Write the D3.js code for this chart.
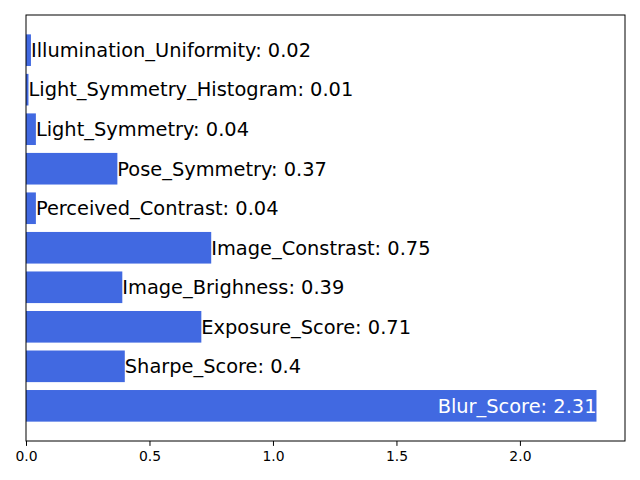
<!DOCTYPE html>
<html>
<head>
<meta charset="utf-8">
<script src="https://cdn.jsdelivr.net/npm/d3@7"></script>
<style>
  body { margin: 0; background: #fff; }
  text { font-family: "DejaVu Sans", sans-serif; }
</style>
</head>
<body>
<div id="chart"></div>
<script>
// data, bottom bar first
var names = ["Blur_Score", "Sharpe_Score", "Exposure_Score", "Image_Brighness", "Image_Constrast",
             "Perceived_Contrast", "Pose_Symmetry", "Light_Symmetry", "Light_Symmetry_Histogram", "Illumination_Uniformity"];
var values = [2.31, 0.4, 0.71, 0.39, 0.75, 0.04, 0.37, 0.04, 0.01, 0.02];
var xTicks = [0, 0.5, 1.0, 1.5, 2.0];

var margin = {top: 15, right: 15, bottom: 39, left: 26},
    width = 640 - margin.left - margin.right,
    height = 480 - margin.top - margin.bottom;

var svg = d3.select("#chart").append("svg")
    .attr("width", 640)
    .attr("height", 480)
  .append("g")
    .attr("transform", "translate(" + margin.left + "," + margin.top + ")");

var maxV = d3.max(values);
var x = d3.scaleLinear().domain([0, maxV * 1.05]).range([0, width]);
// matplotlib style y limits: bars of height 0.8 plus 5% margins
var y = d3.scaleLinear().domain([-0.89, names.length - 1 + 0.89]).range([height, 0]);

svg.selectAll(".bar")
    .data(values)
  .enter().append("rect")
    .attr("class", "bar")
    .attr("x", x(0))
    .attr("y", function(d, i) { return y(i + 0.4); })
    .attr("width", function(d) { return x(d) - x(0); })
    .attr("height", function(d, i) { return y(i - 0.4) - y(i + 0.4); })
    .attr("fill", "#4169E1");

// labels
svg.selectAll(".lbl")
    .data(values)
  .enter().append("text")
    .attr("class", "lbl")
    .attr("x", function(d) { return x(d); })
    .attr("y", function(d, i) { return y(i); })
    .attr("dy", "0.35em")
    .style("font-size", "19.4px")
    .attr("text-anchor", function(d) { return d === maxV ? "end" : "start"; })
    .attr("fill", function(d) { return d === maxV ? "#fff" : "#000"; })
    .text(function(d, i) { return names[i] + ": " + d; });

// x axis
var xAxis = svg.append("g")
    .attr("transform", "translate(0," + height + ")")
    .call(d3.axisBottom(x).tickValues(xTicks).tickFormat(d3.format(".1f")).tickSizeOuter(0).tickSize(4.9).tickPadding(4.9));
xAxis.select(".domain").remove();
xAxis.selectAll("text").style("font-size", "13.9px").style("font-family", "DejaVu Sans").attr("fill", "#000");
xAxis.selectAll("line").attr("stroke", "#000");

// frame
svg.append("rect")
    .attr("width", width)
    .attr("height", height)
    .attr("fill", "none")
    .attr("stroke", "#000")
    .attr("stroke-width", 1);
</script>
</body>
</html>
